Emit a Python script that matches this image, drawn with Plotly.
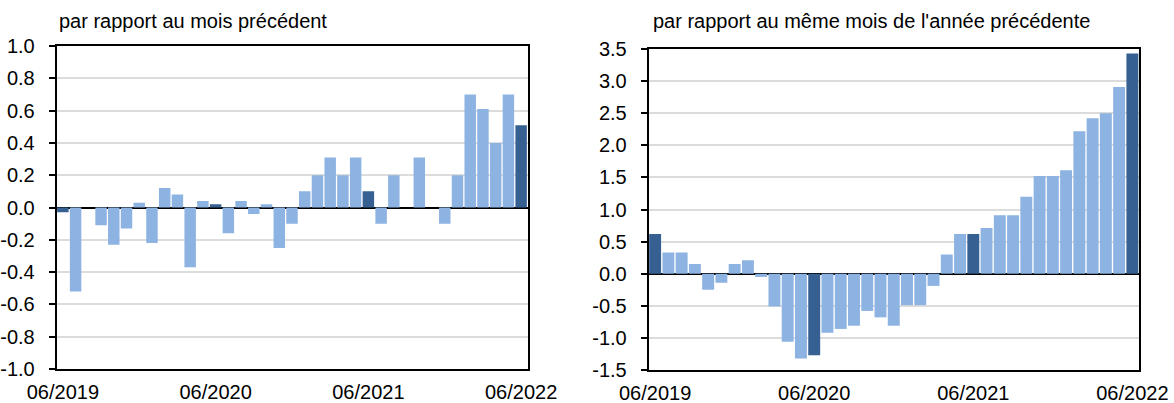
import plotly.graph_objects as go

months = [f"{m:02d}/{y}" for y, m in
          [(2019, m) for m in range(6, 13)] + [(2020, m) for m in range(1, 13)] +
          [(2021, m) for m in range(1, 13)] + [(2022, m) for m in range(1, 7)]]

mom = [-0.03, -0.52, 0.0, -0.11, -0.23, -0.13, 0.03, -0.22, 0.12, 0.08, -0.37, 0.04,
       0.02, -0.16, 0.04, -0.04, 0.02, -0.25, -0.10, 0.10, 0.20, 0.31, 0.20, 0.31,
       0.10, -0.10, 0.20, 0.0, 0.31, 0.0, -0.10, 0.20, 0.70, 0.61, 0.40, 0.70, 0.51]

yoy = [0.62, 0.33, 0.33, 0.15, -0.25, -0.14, 0.15, 0.21, -0.05, -0.51, -1.06, -1.32,
       -1.27, -0.92, -0.86, -0.81, -0.58, -0.68, -0.81, -0.49, -0.49, -0.19, 0.30, 0.62,
       0.62, 0.71, 0.91, 0.91, 1.20, 1.52, 1.52, 1.61, 2.22, 2.42, 2.50, 2.91, 3.43]

x_ticks = ["06/2019", "06/2020", "06/2021", "06/2022"]
y1_ticks = [-1.0, -0.8, -0.6, -0.4, -0.2, 0.0, 0.2, 0.4, 0.6, 0.8, 1.0]
y2_ticks = [-1.5, -1.0, -0.5, 0.0, 0.5, 1.0, 1.5, 2.0, 2.5, 3.0, 3.5]

title1 = "par rapport au mois précédent"
title2 = "par rapport au même mois de l'année précédente"

LIGHT = "#8DB3E2"
DARK = "#376092"
colors = [DARK if m.startswith("06/") else LIGHT for m in months]

FONT = "Liberation Sans, Arial, sans-serif"
W, H = 1174, 403

fig = go.Figure()
fig.add_trace(go.Bar(x=months, y=mom, marker=dict(color=colors, line=dict(width=0)),
                     xaxis="x", yaxis="y", showlegend=False))
fig.add_trace(go.Bar(x=months, y=yoy, marker=dict(color=colors, line=dict(width=0)),
                     xaxis="x2", yaxis="y2", showlegend=False))

def fmt(v):
    return f"{v:.1f}"

xcommon = dict(type="category", tickmode="array", tickvals=x_ticks, ticktext=x_ticks,
               showline=True, linecolor="black", linewidth=1.5, mirror=True,
               ticks="", showgrid=False, tickfont=dict(family=FONT, size=20, color="black"),
               ticklabelstandoff=4, range=[-0.5, 36.5], automargin=False)
ycommon = dict(showline=True, linecolor="black", linewidth=1.5, mirror=True,
               ticks="outside", ticklen=6, tickcolor="black", tickwidth=1.5,
               showgrid=True, gridcolor="#dcdcdc", gridwidth=1.5,
               zeroline=True, zerolinecolor="black", zerolinewidth=1.8,
               tickfont=dict(family=FONT, size=20, color="black"),
               ticklabelstandoff=10, tickmode="array", automargin=False)

fig.update_layout(
    width=W, height=H,
    margin=dict(l=0, r=0, t=0, b=0, autoexpand=False),
    paper_bgcolor="white", plot_bgcolor="white",
    bargap=0.1,
    xaxis=dict(domain=[56.5 / W, 527.5 / W], anchor="y", **xcommon),
    yaxis=dict(domain=[1 - 369 / H, 1 - 46 / H], anchor="x", range=[-1.0, 1.0],
               tickvals=y1_ticks, ticktext=[fmt(v) for v in y1_ticks], **ycommon),
    xaxis2=dict(domain=[648.5 / W, 1139 / W], anchor="y2", **xcommon),
    yaxis2=dict(domain=[1 - 370 / H, 1 - 49 / H], anchor="x2", range=[-1.5, 3.5],
                tickvals=y2_ticks, ticktext=[fmt(v) for v in y2_ticks], **ycommon),
    annotations=[
        dict(text=title1, xref="paper", yref="paper", x=57 / W, y=1 - 21 / H,
             xanchor="left", yanchor="middle", showarrow=False,
             font=dict(family=FONT, size=20, color="black")),
        dict(text=title2, xref="paper", yref="paper", x=651 / W, y=1 - 21 / H,
             xanchor="left", yanchor="middle", showarrow=False,
             font=dict(family=FONT, size=20, color="black")),
    ],
)

fig.write_html("out.html", config={"displayModeBar": False},
               post_script="document.body.style.margin='0px';document.body.style.overflow='hidden';")
